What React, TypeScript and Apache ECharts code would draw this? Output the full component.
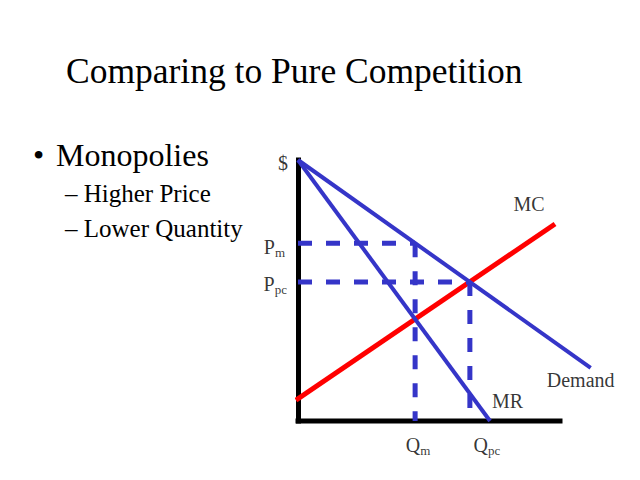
import React, { useEffect, useRef } from "react";
import * as echarts from "echarts";

// ---- data (x: quantity, y: price, both in 0..100 units) ----
const demandQ = [0, 111.7];
const demandP = [100, 20.4];
const mrQ = [0, 73.3];
const mrP = [100, 0];
const mcQ = [-0.8, 98.1];
const mcP = [8, 75.5];
const qm = 44.7;
const pm = 68.1;
const qpc = 65.6;
const ppc = 53.3;
const xAxisEnd = 100;
const yAxisTop = 100;
const titleText = "Comparing to Pure Competition";
const bulletMain = "Monopolies";
const bulletSubs = ["Higher Price", "Lower Quantity"];

const FONT = "Liberation Serif, Times New Roman, serif";
const BLUE = "#3535C8";
const RED = "#FF0000";

const pairs = (xs: number[], ys: number[]) => xs.map((x, i) => [x, ys[i]]);

export default function App() {
  const ref = useRef<HTMLDivElement>(null);
  useEffect(() => {
    if (!ref.current) return;
    const chart = echarts.init(ref.current, null, { renderer: "svg" });

    const rich = {
      b: { fontSize: 20, fontFamily: FONT, color: "#000", lineHeight: 22, verticalAlign: "top" },
      s: { fontSize: 13, fontFamily: FONT, color: "#000", lineHeight: 13, padding: [14, 0, 0, 0], verticalAlign: "bottom" },
    };

    const dashed = (data: number[][]) => ({
      type: "line",
      data,
      symbol: "none",
      clip: false,
      silent: true,
      lineStyle: { color: BLUE, width: 5, type: [14, 14] },
      z: 3,
    });

    const labelItems = [
      { value: [0, yAxisTop], label: { formatter: "{b|$}", position: "left", distance: 10, offset: [0, 3.5] } },
      { value: [0, pm], label: { formatter: "{b|P}{s|m}", position: "left", distance: 13, offset: [0, 5] } },
      { value: [0, ppc], label: { formatter: "{b|P}{s|pc}", position: "left", distance: 11, offset: [0, 3] } },
      { value: [qm, 0], label: { formatter: "{b|Q}{s|m}", position: "bottom", distance: 14, offset: [3, 0] } },
      { value: [qpc, 0], label: { formatter: "{b|Q}{s|pc}", position: "bottom", distance: 14, offset: [17, 0] } },
      { value: [mcQ[1], mcP[1]], label: { formatter: "{b|MC}", position: "inside", offset: [-26, -19] } },
      { value: [demandQ[1], demandP[1]], label: { formatter: "{b|Demand}", position: "inside", offset: [-10, 13] } },
      { value: [mrQ[1], mrP[1]], label: { formatter: "{b|MR}", position: "inside", offset: [17.5, -19.5] } },
    ].map((d) => ({ ...d, label: { show: true, rich, ...d.label } }));

    const ttl = (left: number, top: number, text: string, size: number) => ({
      text: `{t|${text}}`,
      left,
      top,
      padding: 0,
      itemGap: 0,
      textStyle: {
        fontFamily: FONT,
        fontSize: size,
        fontWeight: "normal",
        color: "#000",
        rich: { t: { fontFamily: FONT, fontSize: size, fontWeight: "normal", color: "#000", lineHeight: size } },
      },
    });

    chart.setOption({
      animation: false,
      backgroundColor: "#fff",
      title: [
        ttl(66, 53, titleText, 35.5),
        ttl(33, 139, "•", 32),
        ttl(56, 139, bulletMain, 32),
        ...bulletSubs.map((t, i) => ttl(65, 181 + i * 35, "– " + t, 25)),
      ],
      grid: { left: 298, right: 27.6, top: 160, bottom: 59, outerBoundsMode: "none" },
      xAxis: {
        type: "value",
        min: 0,
        max: 120,
        axisLine: { show: false },
        axisTick: { show: false },
        axisLabel: { show: false },
        splitLine: { show: false },
      },
      yAxis: {
        type: "value",
        min: 0,
        max: 100,
        axisLine: { show: true, onZero: false, lineStyle: { color: "#000", width: 5, cap: "square" } },
        axisTick: { show: false },
        axisLabel: { show: false },
        splitLine: { show: false },
      },
      series: [
        {
          type: "line",
          name: "x axis",
          data: [[0, 0], [xAxisEnd, 0]],
          symbol: "none",
          clip: false,
          silent: true,
          lineStyle: { color: "#000", width: 5, cap: "square" },
          z: 1,
        },
        {
          type: "line",
          name: "MC",
          data: pairs(mcQ, mcP),
          symbol: "none",
          clip: false,
          lineStyle: { color: RED, width: 5 },
          z: 2,
        },
        dashed([[0, pm], [qm, pm]]),
        dashed([[qm, pm], [qm, 0]]),
        dashed([[0, ppc], [qpc, ppc]]),
        dashed([[qpc, ppc], [qpc, 0]]),
        {
          type: "line",
          name: "Demand",
          data: pairs(demandQ, demandP),
          symbol: "none",
          clip: false,
          lineStyle: { color: BLUE, width: 4 },
          z: 4,
        },
        {
          type: "line",
          name: "MR",
          data: pairs(mrQ, mrP),
          symbol: "none",
          clip: false,
          lineStyle: { color: BLUE, width: 4 },
          z: 4,
        },
        {
          type: "scatter",
          data: labelItems,
          symbolSize: 0,
          clip: false,
          silent: true,
          z: 5,
        },
      ],
    });
    return () => chart.dispose();
  }, []);
  return <div ref={ref} style={{ position: "fixed", left: 0, top: 0, width: 640, height: 480 }} />;
}
